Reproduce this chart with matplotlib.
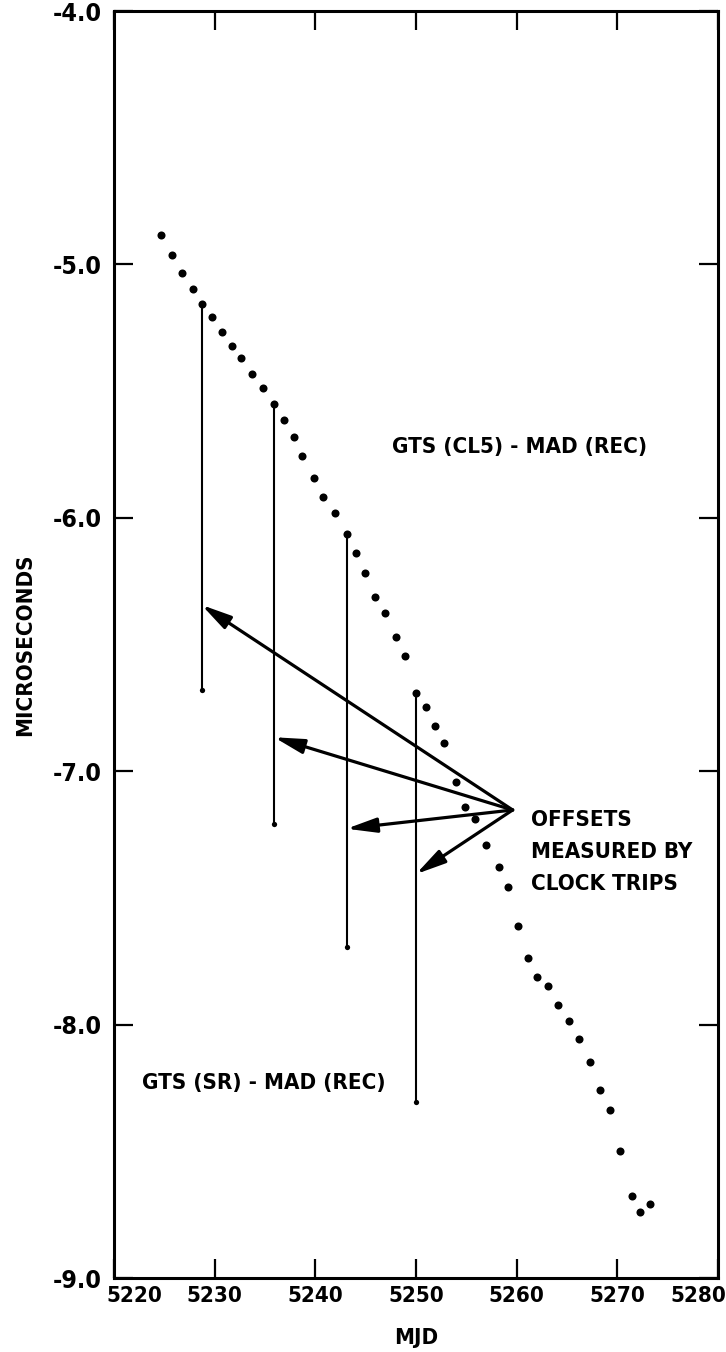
import numpy as np
import matplotlib
matplotlib.use("Agg")
import matplotlib.pyplot as plt
import matplotlib.transforms as mtransforms
from matplotlib import font_manager as fm

# look for a narrow bold face like the original condensed lettering
narrow = None
for f in fm.fontManager.ttflist:
    st = str(f.stretch)
    if ('Narrow' in f.name or 'Condensed' in f.name or 'condensed' in st) and f.weight in (600, 700, 'bold'):
        narrow = f
        break
if narrow is not None:
    plt.rcParams['font.family'] = [narrow.name, 'DejaVu Sans']
    plt.rcParams['font.stretch'] = narrow.stretch
else:
    plt.rcParams['font.family'] = ['Roboto', 'DejaVu Sans']
plt.rcParams['font.weight'] = 'bold'

# GTS (CL5) - MAD (REC) daily points
mjd = [5224.7, 5225.8, 5226.8, 5227.8, 5228.7, 5229.75, 5230.7, 5231.7, 5232.6,
       5233.7, 5234.8, 5235.9, 5236.9, 5237.9, 5238.7, 5239.9, 5240.8, 5242.0,
       5243.1, 5244.0, 5244.9, 5245.9, 5246.9, 5248.0, 5248.9, 5250.0, 5251.0,
       5251.9, 5252.8, 5254.0, 5254.9, 5255.9, 5257.0, 5258.2, 5259.1, 5260.15,
       5261.1, 5262.0, 5263.1, 5264.1, 5265.2, 5266.2, 5267.3, 5268.3, 5269.3,
       5270.3, 5271.5, 5272.3, 5273.2]
usec = [-4.884, -4.963, -5.032, -5.097, -5.156, -5.208, -5.268, -5.321, -5.368,
        -5.431, -5.487, -5.552, -5.615, -5.682, -5.755, -5.844, -5.917, -5.982,
        -6.064, -6.137, -6.216, -6.313, -6.375, -6.472, -6.547, -6.690, -6.748,
        -6.822, -6.889, -7.041, -7.142, -7.189, -7.290, -7.379, -7.458, -7.611,
        -7.738, -7.812, -7.846, -7.923, -7.987, -8.056, -8.148, -8.257, -8.336,
        -8.499, -8.675, -8.738, -8.708]

# clock trip offsets: GTS (SR) - MAD (REC)
trip_mjd = [5228.7, 5235.9, 5243.1, 5250.0]
trip_top = [-5.156, -5.552, -6.064, -6.690]
trip_bottom = [-6.680, -7.210, -7.693, -8.307]
arrow_tips = [-6.344, -6.866, -7.227, -7.406]
arrow_from = (5259.6, -7.153)

xticks = [5220, 5230, 5240, 5250, 5260, 5270, 5280]
yticks = [-4.0, -5.0, -6.0, -7.0, -8.0, -9.0]
ytick_labels = ['-4.0', '-5.0', '-6.0', '-7.0', '-8.0', '-9.0']

fig = plt.figure(figsize=(7.26, 13.52), dpi=100)
ax = fig.add_axes([0.15702, 0.05473, 0.83196, 0.93713])

# pick a font size so the long label is as wide as in the original (~253 px)
probe = fig.text(0, 0, 'GTS (CL5) - MAD (REC)', fontsize=20)
w = probe.get_window_extent(fig.canvas.get_renderer()).width
probe.remove()
fs = min(21, 20 * 253 / w)

ax.plot(mjd, usec, 'o', color='black', markersize=5.8, markeredgewidth=0)

for x, top, bot in zip(trip_mjd, trip_top, trip_bottom):
    ax.plot([x, x], [top, bot], color='black', lw=1.5)
    ax.plot([x], [bot], 'o', color='black', markersize=3.8, markeredgewidth=0)

for x, tip in zip(trip_mjd, arrow_tips):
    ax.annotate('', xy=(x, tip), xytext=arrow_from,
                arrowprops=dict(arrowstyle='-|>,head_length=0.9,head_width=0.22',
                                lw=2.3, color='black', shrinkA=0, shrinkB=0,
                                mutation_scale=20))

ax.text(5247.6, -5.72, 'GTS (CL5) - MAD (REC)', fontsize=fs, va='center', ha='left')
ax.text(5222.8, -8.231, 'GTS (SR) - MAD (REC)', fontsize=fs, va='center', ha='left')
ax.text(5261.4, -7.319, 'OFFSETS\nMEASURED BY\nCLOCK TRIPS', fontsize=fs,
        va='center', ha='left', linespacing=1.18 * 1.18 * 20 / fs)

ax.set_xlim(5220, 5280)
ax.set_ylim(-9.0, -4.0)
ax.set_xticks(xticks)
ax.set_yticks(yticks)
ax.set_yticklabels(ytick_labels)
ax.tick_params(direction='in', length=14, width=1.6, top=True, right=True,
               labelsize=fs)
ax.tick_params(axis='y', pad=9, labelsize=fs * 1.12)
ax.tick_params(axis='x', pad=6)
for s in ax.spines.values():
    s.set_linewidth(2.2)

# end labels sit inside the frame in the original
xlabels = ax.get_xticklabels()
xlabels[0].set_transform(xlabels[0].get_transform() +
                         mtransforms.ScaledTranslation(0.2, 0, fig.dpi_scale_trans))
xlabels[-1].set_transform(xlabels[-1].get_transform() +
                          mtransforms.ScaledTranslation(-0.2, 0, fig.dpi_scale_trans))

ax.set_xlabel('MJD', fontsize=fs, fontweight='bold', va='center')
ax.set_ylabel('MICROSECONDS', fontsize=fs, fontweight='bold', va='center')
ax.xaxis.set_label_coords(0.5, -0.047)
ax.yaxis.set_label_coords(-0.147, 0.5)

fig.savefig('out.png', dpi=100)
